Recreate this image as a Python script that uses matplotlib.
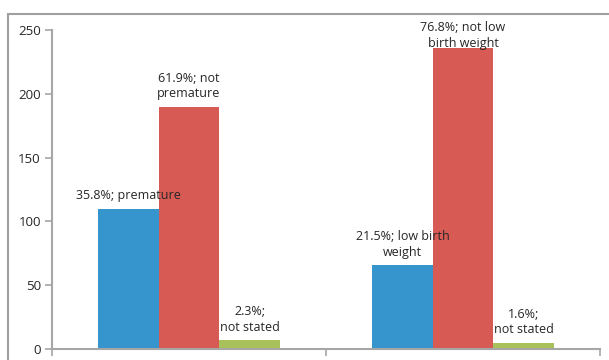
import matplotlib.pyplot as plt
from matplotlib.patches import Rectangle

plt.rcParams['font.family'] = ['Open Sans', 'DejaVu Sans']

groups = ["Prematurity", "Birth weight"]
blue_vals = [110, 66]
red_vals = [190, 236]
green_vals = [7, 5]
blue_labels = ["35.8%; premature", "21.5%; low birth\nweight"]
red_labels = ["61.9%; not\npremature", "76.8%; not low\nbirth weight"]
green_labels = ["2.3%;\nnot stated", "1.6%;\nnot stated"]
y_ticks = [0, 50, 100, 150, 200, 250]

BLUE = "#3795CD"
RED = "#D85A55"
GREEN = "#A8C15A"
GRID = "#A6A6A6"
TXT = "#262626"

fig = plt.figure(figsize=(6.09, 3.6), dpi=100)
fig.patch.set_facecolor("white")
fig.patches.append(Rectangle((8 / 609, -0.1), 1.2, (360 - 14) / 360 + 0.1,
                             transform=fig.transFigure, fill=False,
                             edgecolor="#A0A0A0", lw=1.5))

ax = fig.add_axes([52 / 609, 11 / 360, 548 / 609, 319 / 360])
w = 0.221
xs = list(range(len(groups)))
top = max(red_vals + blue_vals + green_vals)
for vals, labels, color, off in ((blue_vals, blue_labels, BLUE, -w),
                                 (red_vals, red_labels, RED, 0),
                                 (green_vals, green_labels, GREEN, w)):
    pos = [x + off for x in xs]
    ax.bar(pos, vals, width=w, color=color, edgecolor="none")
    for p, v, lab in zip(pos, vals, labels):
        # the tallest label gets pushed down to stay inside the frame
        dy = -1.2 if v == top else 4.5
        ax.annotate(lab, (p, v), xytext=(0, dy), textcoords="offset points",
                    ha="center", va="bottom", fontsize=9, color=TXT,
                    linespacing=1.25)

ax.set_xlim(-0.5, 1.5)
ax.set_ylim(0, 250)
ax.set_yticks(y_ticks)
ax.set_xticks([-0.5, 0.5, 1.5])
ax.set_xticklabels([])
ax.tick_params(axis="y", direction="out", length=5, width=1.2, color=GRID,
               labelsize=9.5, labelcolor=TXT, pad=3)
ax.tick_params(axis="x", direction="out", length=5, width=1.2, color=GRID)
for s in ("top", "right"):
    ax.spines[s].set_visible(False)
for s in ("left", "bottom"):
    ax.spines[s].set_color(GRID)
    ax.spines[s].set_linewidth(1.5)

fig.savefig("out.png", dpi=100)
